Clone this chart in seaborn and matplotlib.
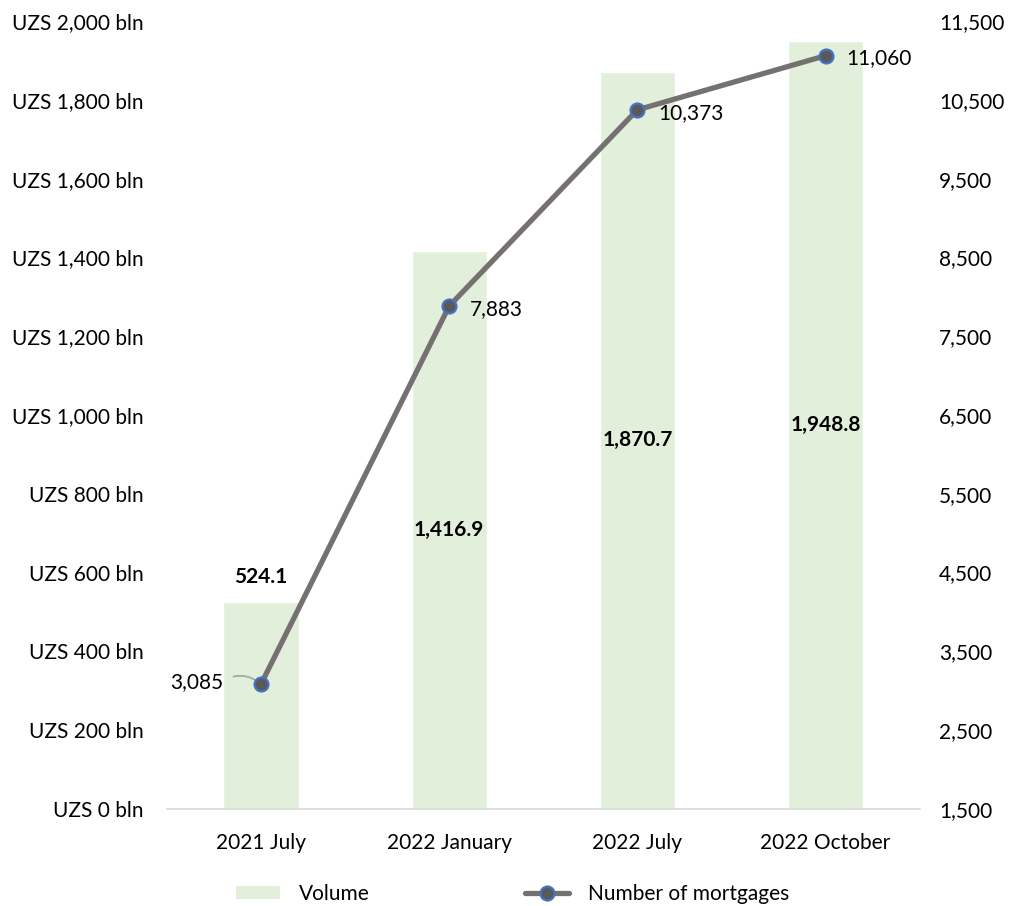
import numpy as np
import pandas as pd
import matplotlib
matplotlib.use("Agg")
import matplotlib.pyplot as plt
import seaborn as sns
from matplotlib.lines import Line2D
from matplotlib.patches import Patch
from matplotlib.ticker import FuncFormatter, MultipleLocator, FixedLocator

# Mortgage lending data
categories = ["2021 July", "2022 January", "2022 July", "2022 October"]
volume_bln = [524.1, 1416.9, 1870.7, 1948.8]
mortgages = [3085, 7883, 10373, 11060]
count_ticks = [1500, 2500, 3500, 4500, 5500, 6500, 7500, 8500, 9500, 10500, 11500]

sns.set_theme(style="white")
plt.rcParams["font.family"] = ["Lato", "DejaVu Sans"]
plt.rcParams["text.color"] = "black"

BAR_COLOR = "#E2EFDA"
LINE_COLOR = "#767171"
FS = 15

fig = plt.figure(figsize=(10.15, 9.06), dpi=100)
ax = fig.add_axes([0.1645, 0.1071, 0.7415, 0.8697])

df = pd.DataFrame({"period": categories, "volume": volume_bln})
sns.barplot(data=df, x="period", y="volume", color=BAR_COLOR, width=0.4,
            saturation=1, ax=ax, zorder=1)

ax.set_ylim(0, 2000)
ax.set_xlim(-0.5, len(categories) - 0.5)
ax.yaxis.set_major_locator(MultipleLocator(200))
ax.yaxis.set_major_formatter(FuncFormatter(lambda v, _: f"UZS {v:,.0f} bln"))
ax.set_xlabel("")
ax.set_ylabel("")
for s in ["top", "left", "right"]:
    ax.spines[s].set_visible(False)
ax.spines["bottom"].set_color("#D9D9D9")
ax.spines["bottom"].set_linewidth(1.2)
ax.tick_params(axis="y", length=0, pad=17, labelsize=FS, colors="black")
ax.tick_params(axis="x", length=0, pad=17, labelsize=FS, colors="black")

# Volume labels (bold), centred in bars; the first sits above its bar
for i, v in enumerate(volume_bln):
    y = v / 2 if i > 0 else v + 65
    ax.text(i, y, f"{v:,.1f}", ha="center", va="center", fontsize=FS,
            fontweight="bold", color="black", zorder=5)

# Number of mortgages on the secondary axis
ax2 = ax.twinx()
xpos = np.arange(len(categories))
sns.lineplot(x=xpos, y=mortgages, ax=ax2, color=LINE_COLOR, linewidth=3.8,
             marker="o", markersize=10, markerfacecolor="#595959",
             markeredgecolor="#4472C4", markeredgewidth=1.6, zorder=3)
ax2.set_ylim(count_ticks[0], count_ticks[-1])
ax2.set_xlim(-0.5, len(categories) - 0.5)
ax2.yaxis.set_major_locator(FixedLocator(count_ticks))
ax2.yaxis.set_major_formatter(FuncFormatter(lambda v, _: f"{v:,.0f}"))
ax2.set_ylabel("")
for s in ["top", "left", "right", "bottom"]:
    ax2.spines[s].set_visible(False)
ax2.tick_params(axis="y", length=0, pad=14, labelsize=FS, colors="black")

# Count labels; the first one is pulled left with a leader line
ax2.annotate(f"{mortgages[0]:,}", xy=(xpos[0], mortgages[0]),
             xytext=(xpos[0] - 0.34, mortgages[0] + 30), fontsize=FS,
             ha="center", va="center", color="black", zorder=2,
             arrowprops=dict(arrowstyle="-", color="#A6A6A6", lw=1.3,
                             connectionstyle="arc3,rad=-0.35",
                             relpos=(1.0, 0.55), shrinkA=5, shrinkB=2))
for i in range(1, len(mortgages)):
    ax2.annotate(f"{mortgages[i]:,}", xy=(xpos[i], mortgages[i]),
                 xytext=(15, -2), textcoords="offset points", fontsize=FS,
                 ha="left", va="center", color="black")

# Legend below the plot
handles = [
    Patch(facecolor=BAR_COLOR, edgecolor="none"),
    Line2D([0], [0], color=LINE_COLOR, linewidth=3.8, marker="o",
           markersize=10, markerfacecolor="#595959",
           markeredgecolor="#4472C4", markeredgewidth=1.6),
]
fig.legend(handles, ["Volume", "Number of mortgages"], loc="center",
           bbox_to_anchor=(0.505, 0.013), ncol=2, frameon=False, fontsize=FS,
           handlelength=2.1, handleheight=0.6, handletextpad=0.9,
           columnspacing=7.5)

fig.savefig("out.png", dpi=100)
